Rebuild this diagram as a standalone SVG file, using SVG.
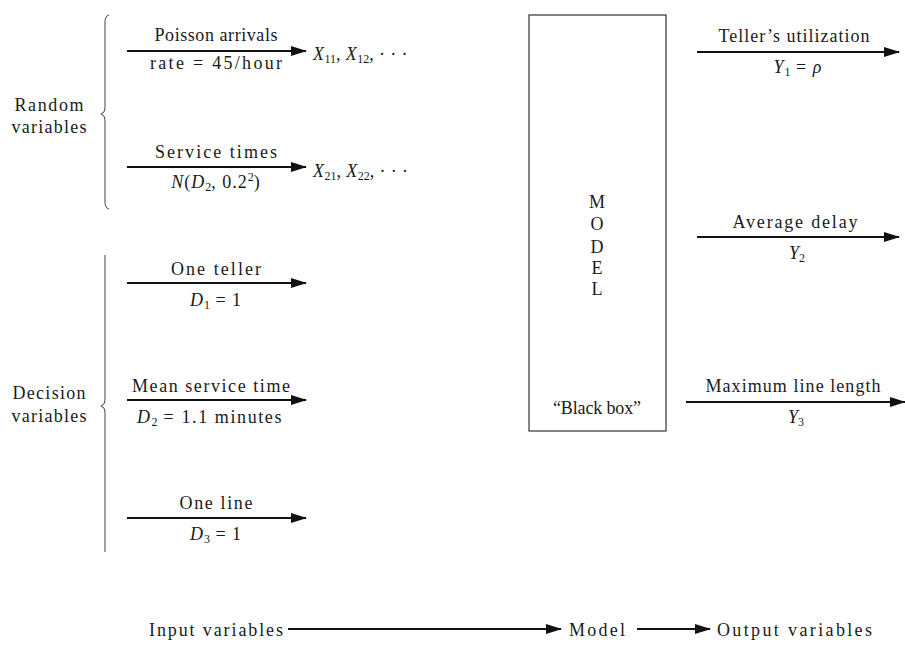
<svg xmlns="http://www.w3.org/2000/svg" width="905" height="645" viewBox="0 0 905 645">
<style>
text{font-family:"Liberation Serif","Times New Roman",serif;font-size:18px;fill:#1a1a1a}
.c{text-anchor:middle}
.m{letter-spacing:1px}
.x{letter-spacing:0.4px}
.i{font-style:italic}
.s{font-size:12px;letter-spacing:0}
.ln{stroke:#111;stroke-width:2;fill:none}
.br{stroke:#444;stroke-width:1;fill:none}
</style>
<defs>
<marker id="ah" markerWidth="16" markerHeight="10" refX="15" refY="5" orient="auto" markerUnits="userSpaceOnUse">
<path d="M0,0 L16,5 L0,10 Z" fill="#111"/>
</marker>
</defs>
<rect width="905" height="645" fill="#fff"/>

<g id="random-vars">
<path class="br" d="M109,15 Q105,16 105,22 L105,108 Q105,113 101,114 Q105,115 105,120 L105,202 Q105,208 109,209"/>
<text x="49" y="111" class="c" textLength="69" lengthAdjust="spacing">Random</text>
<text x="49" y="133" class="c" textLength="75" lengthAdjust="spacing">variables</text>
</g>
<g id="decision-vars">
<path class="br" d="M105,255 L105,400 Q105,405 101,406 Q105,407 105,412 L105,552"/>
<text x="49" y="399" class="c" textLength="73" lengthAdjust="spacing">Decision</text>
<text x="49" y="422" class="c" textLength="75" lengthAdjust="spacing">variables</text>
</g>

<g id="connectors">
<line class="ln" x1="127" y1="51" x2="306" y2="51" marker-end="url(#ah)"/>
<line class="ln" x1="127" y1="167" x2="306" y2="167" marker-end="url(#ah)"/>
<line class="ln" x1="127" y1="283" x2="306" y2="283" marker-end="url(#ah)"/>
<line class="ln" x1="127" y1="400" x2="306" y2="400" marker-end="url(#ah)"/>
<line class="ln" x1="127" y1="518" x2="306" y2="518" marker-end="url(#ah)"/>
<line class="ln" x1="697" y1="52" x2="899" y2="52" marker-end="url(#ah)"/>
<line class="ln" x1="697" y1="237" x2="899" y2="237" marker-end="url(#ah)"/>
<line class="ln" x1="686" y1="402" x2="905" y2="402" marker-end="url(#ah)"/>
<line class="ln" x1="288" y1="629" x2="561" y2="629" marker-end="url(#ah)"/>
<line class="ln" x1="637" y1="629" x2="710" y2="629" marker-end="url(#ah)"/>
</g>

<g id="poisson">
<text x="216" y="41" class="c" textLength="123" lengthAdjust="spacing">Poisson arrivals</text>
<text x="216" y="69" class="c" textLength="132" lengthAdjust="spacing">rate = 45/hour</text>
<text x="313" y="60" class="x"><tspan class="i">X</tspan><tspan class="s" dy="3">11</tspan><tspan dy="-3">, </tspan><tspan class="i">X</tspan><tspan class="s" dy="3">12</tspan><tspan dy="-3">, · · ·</tspan></text>
</g>
<g id="service">
<text x="216" y="158" class="c" textLength="122" lengthAdjust="spacing">Service times</text>
<text x="216" y="188" class="c m"><tspan class="i">N</tspan>(<tspan class="i">D</tspan><tspan class="s" dy="3">2</tspan><tspan dy="-3">, 0.2</tspan><tspan class="s" dy="-7">2</tspan><tspan dy="7">)</tspan></text>
<text x="313" y="177" class="x"><tspan class="i">X</tspan><tspan class="s" dy="3">21</tspan><tspan dy="-3">, </tspan><tspan class="i">X</tspan><tspan class="s" dy="3">22</tspan><tspan dy="-3">, · · ·</tspan></text>
</g>
<g id="one-teller">
<text x="216" y="275" class="c" textLength="90" lengthAdjust="spacing">One teller</text>
<text x="216" y="306" class="c m"><tspan class="i">D</tspan><tspan class="s" dy="3">1</tspan><tspan dy="-3"> = 1</tspan></text>
</g>
<g id="mean-service">
<text x="211" y="392" class="c" textLength="158" lengthAdjust="spacing">Mean service time</text>
<text x="210" y="423" class="c" style="letter-spacing:1.6px"><tspan class="i">D</tspan><tspan class="s" dy="3">2</tspan><tspan dy="-3"> = 1.1 minutes</tspan></text>
</g>
<g id="one-line">
<text x="216" y="509" class="c" textLength="73" lengthAdjust="spacing">One line</text>
<text x="216" y="540" class="c m"><tspan class="i">D</tspan><tspan class="s" dy="3">3</tspan><tspan dy="-3"> = 1</tspan></text>
</g>

<g id="model">
<rect x="529" y="15" width="137" height="416" fill="none" stroke="#333" stroke-width="1.2"/>
<text x="597" y="208" class="c">M</text>
<text x="597" y="230" class="c">O</text>
<text x="597" y="253" class="c">D</text>
<text x="597" y="274" class="c">E</text>
<text x="597" y="295" class="c">L</text>
<text x="597" y="414" class="c" textLength="88" lengthAdjust="spacing">“Black box”</text>
</g>

<g id="utilization">
<text x="794" y="42" class="c" textLength="151" lengthAdjust="spacing">Teller’s utilization</text>
<text x="798" y="73" class="c m"><tspan class="i">Y</tspan><tspan class="s" dy="3">1</tspan><tspan dy="-3"> = </tspan><tspan class="i">ρ</tspan></text>
</g>
<g id="delay">
<text x="795" y="228" class="c" textLength="125" lengthAdjust="spacing">Average delay</text>
<text x="797" y="259" class="c"><tspan class="i">Y</tspan><tspan class="s" dy="3">2</tspan></text>
</g>
<g id="max-line">
<text x="793" y="392" class="c" textLength="175" lengthAdjust="spacing">Maximum line length</text>
<text x="796" y="423" class="c"><tspan class="i">Y</tspan><tspan class="s" dy="3">3</tspan></text>
</g>

<g id="legend">
<text x="149" y="636" textLength="134" lengthAdjust="spacing">Input variables</text>
<text x="569" y="636" textLength="56" lengthAdjust="spacing">Model</text>
<text x="717" y="636" textLength="155" lengthAdjust="spacing">Output variables</text>
</g>
</svg>
